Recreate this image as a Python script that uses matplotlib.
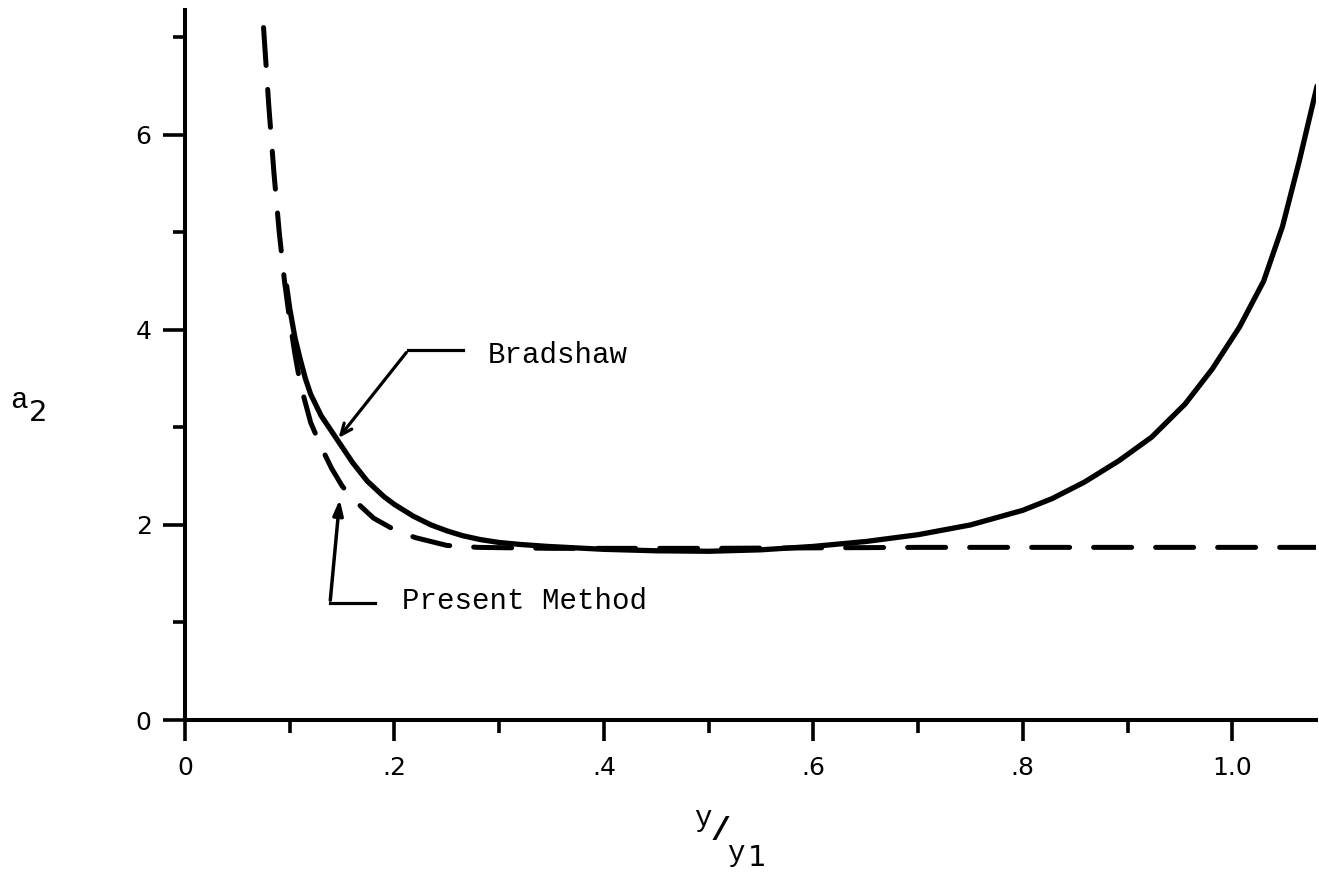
import numpy as np
import matplotlib
matplotlib.use('Agg')
from matplotlib import pyplot as plt

# Bradshaw curve (solid)
brad_x = [0.097, 0.1, 0.105, 0.11, 0.115, 0.12, 0.13, 0.145, 0.16, 0.174, 0.19, 0.2,
          0.218, 0.235, 0.25, 0.265, 0.282, 0.3, 0.32, 0.346, 0.4, 0.45, 0.5, 0.55,
          0.6, 0.65, 0.7, 0.75, 0.8, 0.828, 0.859, 0.892, 0.923, 0.955, 0.981, 1.007,
          1.03, 1.048, 1.064, 1.081]
brad_y = [4.45, 4.22, 3.92, 3.7, 3.5, 3.34, 3.12, 2.88, 2.64, 2.45, 2.29, 2.21,
          2.09, 2.0, 1.94, 1.89, 1.85, 1.82, 1.8, 1.78, 1.75, 1.735, 1.73, 1.745,
          1.78, 1.83, 1.9, 2.0, 2.15, 2.27, 2.44, 2.66, 2.9, 3.24, 3.6, 4.03,
          4.5, 5.06, 5.73, 6.5]

# present method (dashed)
pres_x = [0.075, 0.08, 0.085, 0.09, 0.095, 0.10, 0.105, 0.11, 0.12, 0.13, 0.14, 0.15,
          0.16, 0.18, 0.2, 0.22, 0.25, 0.28, 0.35, 0.5, 0.7, 0.9, 1.08]
pres_y = [7.1, 6.3, 5.6, 5.0, 4.5, 4.1, 3.75, 3.45, 3.05, 2.8, 2.58, 2.4,
          2.27, 2.07, 1.95, 1.87, 1.79, 1.77, 1.76, 1.76, 1.77, 1.77, 1.77]

x_major = [0, 0.2, 0.4, 0.6, 0.8, 1.0]
x_labels = ['0', '.2', '.4', '.6', '.8', '1.0']
x_minor = [0.1, 0.3, 0.5, 0.7, 0.9]
y_major = [0, 2, 4, 6]
y_labels = ['0', '2', '4', '6']
y_minor = [1, 3, 5, 7]

W, H = 1319, 875
fig = plt.figure(figsize=(W / 100, H / 100), dpi=100)
ax = fig.add_axes([185 / W, 155 / H, 1131 / W, 710 / H])

ax.plot(brad_x, brad_y, color='black', lw=3.8, solid_capstyle='round', solid_joinstyle='round')
ax.plot(pres_x, pres_y, color='black', lw=3.6, dashes=(7.6, 4.8), dash_capstyle='round')

ax.set_xlim(0, 1.08)
ax.set_ylim(0, 7.28)
for s in ['top', 'right']:
    ax.spines[s].set_visible(False)
for s in ['left', 'bottom']:
    ax.spines[s].set_linewidth(2.9)

tick_font = 'DejaVu Sans'
ax.set_xticks(x_major)
ax.set_xticklabels(x_labels, fontsize=18, family=tick_font)
ax.set_xticks(x_minor, minor=True)
ax.set_yticks(y_major)
ax.set_yticklabels(y_labels, fontsize=18, family=tick_font)
ax.set_yticks(y_minor, minor=True)
ax.tick_params(axis='x', which='major', length=15, width=2.6, pad=11)
ax.tick_params(axis='x', which='minor', length=9, width=2.6)
ax.tick_params(axis='y', which='major', length=16, width=2.6, pad=8)
ax.tick_params(axis='y', which='minor', length=9, width=2.6)

mono = 'Liberation Mono'
# annotation: Bradshaw
ax.plot([0.2655, 0.213], [3.79, 3.79], color='black', lw=2.3)
ax.annotate('', xy=(0.145, 2.87), xytext=(0.213, 3.79),
            arrowprops=dict(arrowstyle='->, head_length=0.8, head_width=0.35', color='black', lw=2.3))
ax.text(0.289, 3.74, 'Bradshaw', fontsize=21, family=mono, va='center', ha='left')

# annotation: Present Method
ax.plot([0.1815, 0.1385], [1.2, 1.2], color='black', lw=2.3)
ax.annotate('', xy=(0.148, 2.29), xytext=(0.1385, 1.2),
            arrowprops=dict(arrowstyle='-|>, head_length=0.9, head_width=0.3', color='black', lw=2.5))
ax.text(0.207, 1.22, 'Present Method', fontsize=21, family=mono, va='center', ha='left')

# axis labels
fig.text(10 / W, 1 - 400 / H, 'a', fontsize=21, family=mono, ha='left', va='center')
fig.text(29 / W, 1 - 413 / H, '2', fontsize=21, family=tick_font, ha='left', va='center')
fig.text(694 / W, 1 - 818 / H, 'y', fontsize=21, family=mono, ha='left', va='center')
fig.text(711 / W, 1 - 831 / H, '/', fontsize=24, family=mono, weight='bold', ha='left', va='center')
fig.text(727 / W, 1 - 853 / H, 'y', fontsize=21, family=mono, ha='left', va='center')
fig.text(748 / W, 1 - 858 / H, '1', fontsize=21, family=tick_font, ha='left', va='center')

fig.savefig('out.png', dpi=100)
